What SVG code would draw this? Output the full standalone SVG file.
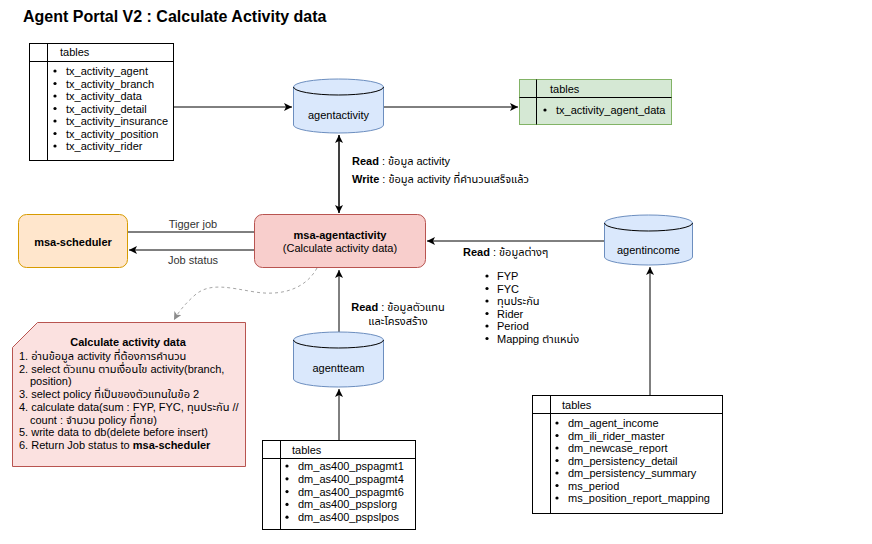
<svg xmlns="http://www.w3.org/2000/svg" width="872" height="544" viewBox="0 0 872 544">
<style>
text{font-family:"Liberation Sans","Noto Sans Thai","Noto Sans",sans-serif;font-size:11px;fill:#000}
.b{font-weight:bold}
.t{font-size:16px;font-weight:bold}
.tbl{fill:#fff;stroke:#000;stroke-width:1}
.ln{fill:none;stroke:#000;stroke-width:1}
.cyl{fill:#dae8fc;stroke:#6c8ebf;stroke-width:1}
.dot{fill:#000}
.mid{text-anchor:middle}
.g{fill:#333}
</style>
<defs>
<marker id="ar" markerWidth="10" markerHeight="10" refX="8" refY="4" orient="auto" markerUnits="userSpaceOnUse"><path d="M0,0 L8,4 L0,8 L2,4 z" fill="#000"/></marker>
<marker id="arg" markerWidth="10" markerHeight="10" refX="8" refY="4" orient="auto" markerUnits="userSpaceOnUse"><path d="M0,0 L8,4 L0,8 L2,4 z" fill="#8c8c8c"/></marker>
</defs>
<text class="t" x="23" y="22">Agent Portal V2 : Calculate Activity data</text>

<g id="connectors">
<path class="ln" d="M173,107 H292" marker-end="url(#ar)"/>
<path class="ln" d="M384,107 H518" marker-end="url(#ar)"/>
<path class="ln" d="M339,213 V135" marker-end="url(#ar)"/>
<path class="ln" d="M339,135 V213" marker-end="url(#ar)"/>
<path class="ln" d="M254,232 H128"/>
<path class="ln" d="M254,250 H129" marker-end="url(#ar)"/>
<path class="ln" d="M604,241 H427" marker-end="url(#ar)"/>
<path class="ln" d="M339,332 V270" marker-end="url(#ar)"/>
<path class="ln" d="M339,440 V389" marker-end="url(#ar)"/>
<path class="ln" d="M650,395 V267" marker-end="url(#ar)"/>
<path d="M317,268 C305,290 280,296 255,292 C230,288 210,282 195,295 C186,303 179,311 174,320" fill="none" stroke="#a6a6a6" stroke-dasharray="3 3" marker-end="url(#arg)"/>
<text class="b" x="352" y="165">Read <tspan font-weight="normal">: ข้อมูล activity</tspan></text>
<text class="b" x="352" y="183">Write <tspan font-weight="normal">: ข้อมูล activity ที่คำนวนเสร็จแล้ว</tspan></text>
<text class="mid g" x="193" y="228">Tigger job</text>
<text class="mid g" x="193" y="264">Job status</text>
<text class="mid" x="398" y="311"><tspan font-weight="bold">Read</tspan> : ข้อมูลตัวแทน</text>
<text class="mid" x="398" y="325">และโครงสร้าง</text>
<text x="463" y="256"><tspan font-weight="bold">Read</tspan> : ข้อมูลต่างๆ</text>
<circle class="dot" cx="487" cy="276" r="1.6"/><text x="497" y="280">FYP</text>
<circle class="dot" cx="487" cy="288.5" r="1.6"/><text x="497" y="292.5">FYC</text>
<circle class="dot" cx="487" cy="301" r="1.6"/><text x="497" y="305">ทุนประกัน</text>
<circle class="dot" cx="487" cy="313.5" r="1.6"/><text x="497" y="317.5">Rider</text>
<circle class="dot" cx="487" cy="326" r="1.6"/><text x="497" y="330">Period</text>
<circle class="dot" cx="487" cy="338.5" r="1.6"/><text x="497" y="342.5">Mapping ตำแหน่ง</text>
</g>

<g id="tables-activity">
<rect class="tbl" x="29.5" y="43.5" width="144" height="117"/>
<path class="ln" d="M29.5,61.5 H173.5 M47.5,43.5 V160.5"/>
<text x="60" y="56">tables</text>
<circle class="dot" cx="55" cy="71" r="1.6"/><text x="66" y="75">tx_activity_agent</text>
<circle class="dot" cx="55" cy="83.5" r="1.6"/><text x="66" y="87.5">tx_activity_branch</text>
<circle class="dot" cx="55" cy="96" r="1.6"/><text x="66" y="100">tx_activity_data</text>
<circle class="dot" cx="55" cy="108.5" r="1.6"/><text x="66" y="112.5">tx_activity_detail</text>
<circle class="dot" cx="55" cy="121" r="1.6"/><text x="66" y="125">tx_activity_insurance</text>
<circle class="dot" cx="55" cy="133.5" r="1.6"/><text x="66" y="137.5">tx_activity_position</text>
<circle class="dot" cx="55" cy="146" r="1.6"/><text x="66" y="150">tx_activity_rider</text>
</g>

<g id="agentactivity">
<path class="cyl" d="M293.5,87 A45,8 0 0 1 383.5,87 V125 A45,8 0 0 1 293.5,125 Z"/>
<path class="ln" d="M293.5,87 A45,8 0 0 0 383.5,87" stroke="#6c8ebf"/>
<text class="mid" x="338.5" y="119">agentactivity</text>
</g>

<g id="tables-agent-data">
<rect x="519.5" y="79.5" width="152" height="45" fill="#d5e8d4" stroke="#82b366"/>
<path class="ln" d="M519.5,97.5 H671.5 M536.5,79.5 V124.5" stroke="#82b366"/>
<text x="550" y="93">tables</text>
<circle class="dot" cx="545" cy="110" r="1.6"/><text x="556" y="114">tx_activity_agent_data</text>
</g>

<g id="msa-scheduler">
<rect x="18.5" y="214.5" width="109" height="53" rx="8" fill="#ffe6cc" stroke="#d79b00"/>
<text class="mid b" x="73" y="246">msa-scheduler</text>
</g>

<g id="msa-agentactivity">
<rect x="254.5" y="214.5" width="171" height="53" rx="8" fill="#f8cecc" stroke="#b85450"/>
<text class="mid b" x="340" y="239">msa-agentactivity</text>
<text class="mid" x="340" y="252">(Calculate activity data)</text>
</g>

<g id="agentincome">
<path class="cyl" d="M604.5,223 A44,8 0 0 1 692.5,223 V257 A44,8 0 0 1 604.5,257 Z"/>
<path class="ln" d="M604.5,223 A44,8 0 0 0 692.5,223" stroke="#6c8ebf"/>
<text class="mid" x="648.5" y="254">agentincome</text>
</g>

<g id="note">
<path d="M37.5,322.5 H245.5 V466.5 H12.5 V347.5 Z" fill="#fbe1e0" stroke="#b85450"/>
<text class="mid b" x="128" y="346">Calculate activity data</text>
<text x="19" y="360">1. อ่านข้อมูล activity ที่ต้องการคำนวน</text>
<text x="19" y="372.7">2. select ตัวแทน ตามเงื่อนไข activity(branch,</text>
<text x="30" y="385.4">position)</text>
<text x="19" y="398.1">3. select policy ที่เป็นของตัวแทนในข้อ 2</text>
<text x="19" y="410.8">4. calculate data(sum : FYP, FYC, ทุนประกัน //</text>
<text x="30" y="423.5">count : จำนวน policy ที่ขาย)</text>
<text x="19" y="436.2">5. write data to db(delete before insert)</text>
<text x="19" y="448.9">6. Return Job status to <tspan font-weight="bold">msa-scheduler</tspan></text>
</g>

<g id="agentteam">
<path class="cyl" d="M293.5,340 A45,8 0 0 1 383.5,340 V379 A45,8 0 0 1 293.5,379 Z"/>
<path class="ln" d="M293.5,340 A45,8 0 0 0 383.5,340" stroke="#6c8ebf"/>
<text class="mid" x="338.5" y="372">agentteam</text>
</g>

<g id="tables-agentteam">
<rect class="tbl" x="262.5" y="440.5" width="153" height="89"/>
<path class="ln" d="M262.5,458.5 H415.5 M280.5,440.5 V529.5"/>
<text x="292" y="454">tables</text>
<circle class="dot" cx="287" cy="466" r="1.6"/><text x="298" y="470">dm_as400_pspagmt1</text>
<circle class="dot" cx="287" cy="478.8" r="1.6"/><text x="298" y="482.8">dm_as400_pspagmt4</text>
<circle class="dot" cx="287" cy="491.6" r="1.6"/><text x="298" y="495.6">dm_as400_pspagmt6</text>
<circle class="dot" cx="287" cy="504.4" r="1.6"/><text x="298" y="508.4">dm_as400_pspslorg</text>
<circle class="dot" cx="287" cy="517.2" r="1.6"/><text x="298" y="521.2">dm_as400_pspslpos</text>
</g>

<g id="tables-agentincome">
<rect class="tbl" x="532.5" y="395.5" width="190" height="118"/>
<path class="ln" d="M532.5,413.5 H722.5 M550.5,395.5 V513.5"/>
<text x="562" y="409">tables</text>
<circle class="dot" cx="557" cy="423" r="1.6"/><text x="568" y="427">dm_agent_income</text>
<circle class="dot" cx="557" cy="435.5" r="1.6"/><text x="568" y="439.5">dm_ili_rider_master</text>
<circle class="dot" cx="557" cy="448" r="1.6"/><text x="568" y="452">dm_newcase_report</text>
<circle class="dot" cx="557" cy="460.5" r="1.6"/><text x="568" y="464.5">dm_persistency_detail</text>
<circle class="dot" cx="557" cy="473" r="1.6"/><text x="568" y="477">dm_persistency_summary</text>
<circle class="dot" cx="557" cy="485.5" r="1.6"/><text x="568" y="489.5">ms_period</text>
<circle class="dot" cx="557" cy="498" r="1.6"/><text x="568" y="502">ms_position_report_mapping</text>
</g>
</svg>
